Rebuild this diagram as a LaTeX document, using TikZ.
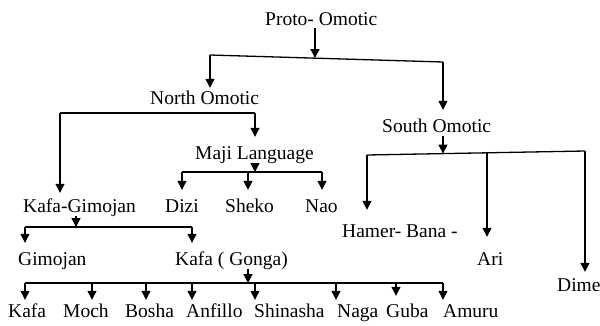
\documentclass[tikz,border=0pt]{standalone}
\usepackage{fontspec}
\setmainfont{Liberation Serif}
\usetikzlibrary{arrows.meta}
\begin{document}
\begin{tikzpicture}[x=1pt,y=-1pt,
  lbl/.style={anchor=base west, inner sep=0pt, text height=18pt, text depth=4pt, font=\fontsize{19.5}{22}\selectfont},
  ln/.style={line width=1.3pt},
  arr/.style={line width=1.3pt, -{Triangle[width=9pt,length=9pt]}}]
\useasboundingbox (0,0) rectangle (600,325);
% labels
\node[lbl, text depth=3pt] (P) at (265,25) {Proto- Omotic};
\node[lbl, text height=16pt] (NO) at (150,104) {North Omotic};
\node[lbl, text height=22pt] (SO) at (382,132) {South Omotic};
\node[lbl, text height=22pt] (MJ) at (195,159) {Maji Language};
\node[lbl, text height=19pt] (KG) at (23,212) {Kafa-Gimojan};
\node[lbl, text height=22pt] (DZ) at (165,212) {Dizi};
\node[lbl, text height=22pt] (SK) at (225,212) {Sheko};
\node[lbl, text height=22pt] (NA) at (305,212) {Nao};
\node[lbl, text height=22pt] (GI) at (18,265) {Gimojan};
\node[lbl, text height=22pt] (KF) at (175,265) {Kafa ( Gonga)};
\node[lbl, text height=27pt] (HB) at (342,237) {Hamer- Bana -};
\node[lbl, text height=28pt] (AR) at (477,265) {Ari};
\node[lbl, text height=19pt] (DM) at (557,291) {Dime};
\node[lbl, text height=17pt] (L1) at (8,317) {Kafa};
\node[lbl, text height=17pt] (L2) at (63,317) {Moch};
\node[lbl, text height=17pt] (L3) at (125,317) {Bosha};
\node[lbl, text height=17pt] (L4) at (186,317) {Anfillo};
\node[lbl, text height=17pt] (L5) at (254,317) {Shinasha};
\node[lbl, text height=17pt] (L6) at (337,317) {Naga};
\node[lbl, text height=21pt] (L7) at (386,317) {Guba};
\node[lbl, text height=17pt] (L8) at (443,317) {Amuru};
% Proto-Omotic
\coordinate (pL) at (210,55); \coordinate (pR) at (443,62); \coordinate (pM) at (315,58);
\draw[arr] (P.south -| pM) -- (pM);
\draw[ln] (pL) -- (pR);
\draw[arr] (pL) -- (pL |- NO.north);
\draw[arr] (pR) -- (pR |- SO.north);
% North Omotic
\coordinate (nL) at (60,113); \coordinate (nR) at (255,113);
\draw[ln] (nL) -- (nR);
\draw[arr] (nL) -- (nL |- KG.north);
\draw[arr] (nR) -- (nR |- MJ.north);
% Maji
\coordinate (mS) at (255,172); \coordinate (mL) at (182,172); \coordinate (mM) at (248,172); \coordinate (mR) at (322,172);
\draw[arr] (MJ.south -| mS) -- (mS);
\draw[ln] (mL) -- (mR);
\draw[arr] (mL) -- (mL |- DZ.north);
\draw[arr] (mM) -- (mM |- SK.north);
\draw[arr] (mR) -- (mR |- NA.north);
% Kafa-Gimojan
\coordinate (kS) at (76,227); \coordinate (kL) at (25,227); \coordinate (kR) at (192,227);
\draw[arr] (KG.south -| kS) -- (kS);
\draw[ln] (kL) -- (kR);
\draw[arr] (kL) -- (kL |- GI.north);
\draw[arr] (kR) -- (kR |- KF.north);
% Kafa (Gonga)
\coordinate (gS) at (248,283); \coordinate (g1) at (25,283); \coordinate (g2) at (92,283);
\coordinate (g3) at (146,283); \coordinate (g4) at (192,283); \coordinate (g5) at (255,283);
\coordinate (g6) at (336,283); \coordinate (g7) at (396,283); \coordinate (g8) at (443,283);
\draw[arr] (KF.south -| gS) -- (gS);
\draw[ln] (g1) -- (g8);
\draw[arr] (g1) -- (g1 |- L1.north);
\draw[arr] (g2) -- (g2 |- L2.north);
\draw[arr] (g3) -- (g3 |- L3.north);
\draw[arr] (g4) -- (g4 |- L4.north);
\draw[arr] (g5) -- (g5 |- L5.north);
\draw[arr] (g6) -- (g6 |- L6.north);
\draw[arr] (g7) -- (g7 |- L7.north);
\draw[arr] (g8) -- (g8 |- L8.north);
% South Omotic
\coordinate (sL) at (367,155); \coordinate (sS) at (443,153.6); \coordinate (sM) at (487,152.8); \coordinate (sR) at (585,151);
\draw[arr] (SO.south -| sS) -- (sS);
\draw[ln] (sL) -- (sR);
\draw[arr] (sL) -- (sL |- HB.north);
\draw[arr] (sM) -- (sM |- AR.north);
\draw[arr] (sR) -- (sR |- DM.north);
\end{tikzpicture}
\end{document}
